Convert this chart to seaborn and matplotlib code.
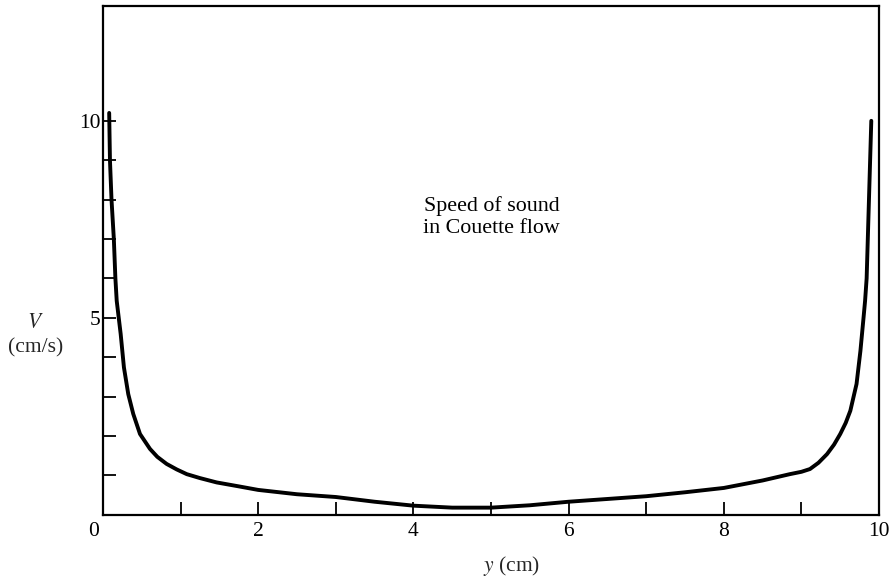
import matplotlib
matplotlib.use("Agg")
import matplotlib.pyplot as plt
import seaborn as sns
import pandas as pd
from matplotlib.ticker import FixedLocator
from matplotlib.transforms import ScaledTranslation

# Data
y_cm = [0.08, 0.09, 0.11, 0.14, 0.16, 0.177, 0.228, 0.27, 0.326, 0.39, 0.477,
        0.606, 0.70, 0.82, 0.95, 1.08, 1.25, 1.465, 1.75, 2.0, 2.5, 3.0, 3.5,
        4.0, 4.5, 5.0, 5.5, 6.0, 6.5, 7.0, 7.5, 8.0, 8.5, 8.85, 9.0, 9.11,
        9.22, 9.33, 9.42, 9.50, 9.57, 9.63, 9.71, 9.76, 9.80, 9.82, 9.84,
        9.855, 9.87, 9.885, 9.90]
speed = [10.2, 9.0, 8.0, 7.0, 6.0, 5.43, 4.59, 3.74, 3.06, 2.56, 2.05,
         1.67, 1.47, 1.29, 1.15, 1.03, 0.93, 0.82, 0.72, 0.63, 0.52, 0.45, 0.33,
         0.23, 0.18, 0.18, 0.24, 0.33, 0.40, 0.47, 0.57, 0.68, 0.87, 1.03, 1.09, 1.16,
         1.32, 1.54, 1.78, 2.05, 2.33, 2.64, 3.32, 4.16, 5.0, 5.43, 6.0,
         7.0, 8.0, 9.0, 10.0]

x_major = [0, 2, 4, 6, 8, 10]
x_minor = [1, 3, 5, 7, 9]
y_major = [5, 10]
y_minor = [1, 2, 3, 4, 6, 7, 8, 9]
title_text = "Speed of sound\nin Couette flow"

df = pd.DataFrame({"y": y_cm, "V": speed})

sns.set_theme(style="white")
plt.rcParams["font.family"] = ["Liberation Serif", "DejaVu Serif"]
plt.rcParams["mathtext.fontset"] = "stix"

fig = plt.figure(figsize=(8.9, 5.79), dpi=100)
ax = fig.add_axes([0.1157, 0.111, 0.872, 0.879])

sns.lineplot(data=df, x="y", y="V", sort=False, color="black", linewidth=2.8, ax=ax)

ax.set_xlim(0, 10)
ax.set_ylim(0, 12.92)

ax.xaxis.set_major_locator(FixedLocator(x_major))
ax.xaxis.set_minor_locator(FixedLocator(x_minor))
ax.yaxis.set_major_locator(FixedLocator(y_major))
ax.yaxis.set_minor_locator(FixedLocator(y_minor))
ax.set_xticklabels([str(v) for v in x_major])
ax.set_yticklabels([str(v) for v in y_major])

ax.tick_params(axis="both", which="both", direction="in", length=9.5, width=1.3,
               color="black", labelsize=15.5, labelcolor="black",
               bottom=True, left=True, top=False, right=False)
ax.tick_params(axis="x", which="both", pad=5)
ax.tick_params(axis="y", which="both", pad=2)

# origin label sits slightly left of the axis corner
lbl0 = ax.get_xticklabels()[0]
lbl0.set_transform(lbl0.get_transform() + ScaledTranslation(-0.09, 0, fig.dpi_scale_trans))

for s in ax.spines.values():
    s.set_visible(True)
    s.set_color("black")
    s.set_linewidth(1.6)

ax.set_xlabel("$y$ (cm)", fontsize=15.5, va="center")
ax.xaxis.set_label_coords(0.527, -0.100)
ax.set_ylabel("$V$\n(cm/s)", fontsize=15.5, rotation=0, ha="center", va="center",
              linespacing=1.4)
ax.yaxis.set_label_coords(-0.087, 0.352)

ax.text(5.01, 7.55, title_text, fontsize=15.8, ha="center", va="center",
        linespacing=1.2, color="black")

ax.grid(False)
fig.savefig("out.png", dpi=100, facecolor="white")
